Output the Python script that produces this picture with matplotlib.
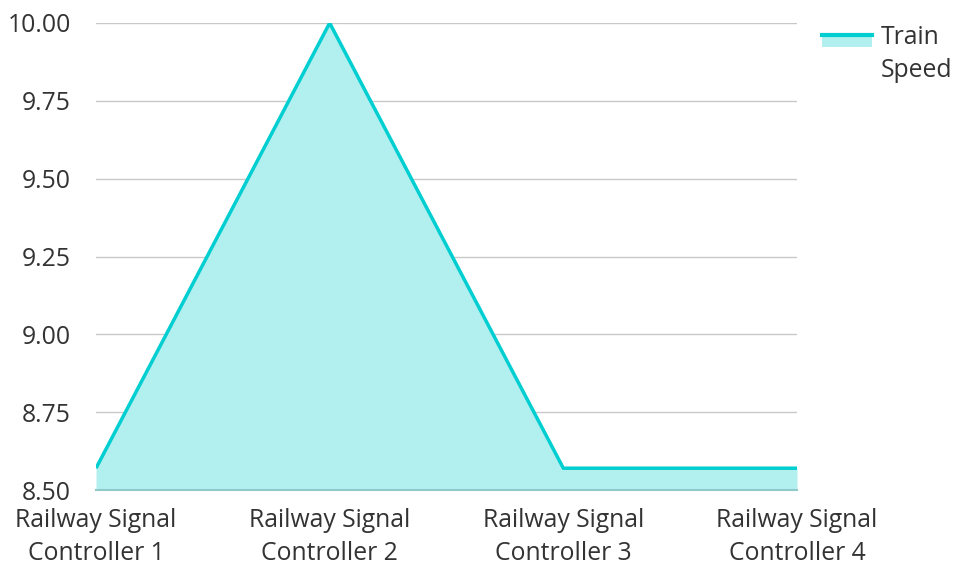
import matplotlib
matplotlib.use("Agg")
import matplotlib.pyplot as plt
from matplotlib.patches import Rectangle
from matplotlib.lines import Line2D

categories = ["Railway Signal\nController 1", "Railway Signal\nController 2",
              "Railway Signal\nController 3", "Railway Signal\nController 4"]
speed = [8.57, 10.0, 8.57, 8.57]
series_name = "Train\nSpeed"
yticks = [8.50, 8.75, 9.00, 9.25, 9.50, 9.75, 10.00]

line_color = "#00CED1"
fill_color = "#B2EFEF"
text_color = "#333333"
fs = 17.8

plt.rcParams['font.family'] = ['Open Sans', 'DejaVu Sans']

W, H = 955, 562
fig = plt.figure(figsize=(W/100, H/100), dpi=100)
ax = fig.add_axes([96/W, 1-490/H, (797-96)/W, (490-23)/H])

x = list(range(len(categories)))
ax.fill_between(x, 8.5, speed, color=fill_color, zorder=2, linewidth=0)
ax.plot(x, speed, color=line_color, linewidth=2.5, zorder=3, solid_capstyle='butt')

ax.set_xlim(0, len(categories)-1)
ax.set_ylim(8.5, 10.0)
ax.set_yticks(yticks)
ax.set_yticklabels([f"{v:.2f}" for v in yticks])
ax.set_xticks(x)
ax.set_xticklabels(categories)
ax.grid(axis='y', color='#c8c8c8', linewidth=1, zorder=1)
ax.set_axisbelow(True)
for s in ['left', 'right', 'top']:
    ax.spines[s].set_visible(False)
ax.spines['bottom'].set_color('#8fc9c9')
ax.spines['bottom'].set_linewidth(1.5)
ax.spines['bottom'].set_zorder(4)
ax.tick_params(axis='y', length=0, pad=18, labelsize=fs, labelcolor=text_color)
ax.tick_params(axis='x', length=0, pad=13, labelsize=fs, labelcolor=text_color)
for lab in ax.get_xticklabels():
    lab.set_linespacing(1.42)

# legend (drawn in figure pixel space)
def fx(px):
    return px / W

def fy(py):
    return 1 - py / H

fig.add_artist(Rectangle((fx(822), fy(47)), fx(872) - fx(822), fy(35) - fy(47),
                         transform=fig.transFigure, facecolor=fill_color, edgecolor='none'))
fig.add_artist(Line2D([fx(822), fx(872)], [fy(35), fy(35)], transform=fig.transFigure,
                      color=line_color, linewidth=3))
fig.text(fx(881), fy(25), series_name, fontsize=fs, color=text_color,
         ha='left', va='top', linespacing=1.42)

fig.savefig("out.png", dpi=100)
